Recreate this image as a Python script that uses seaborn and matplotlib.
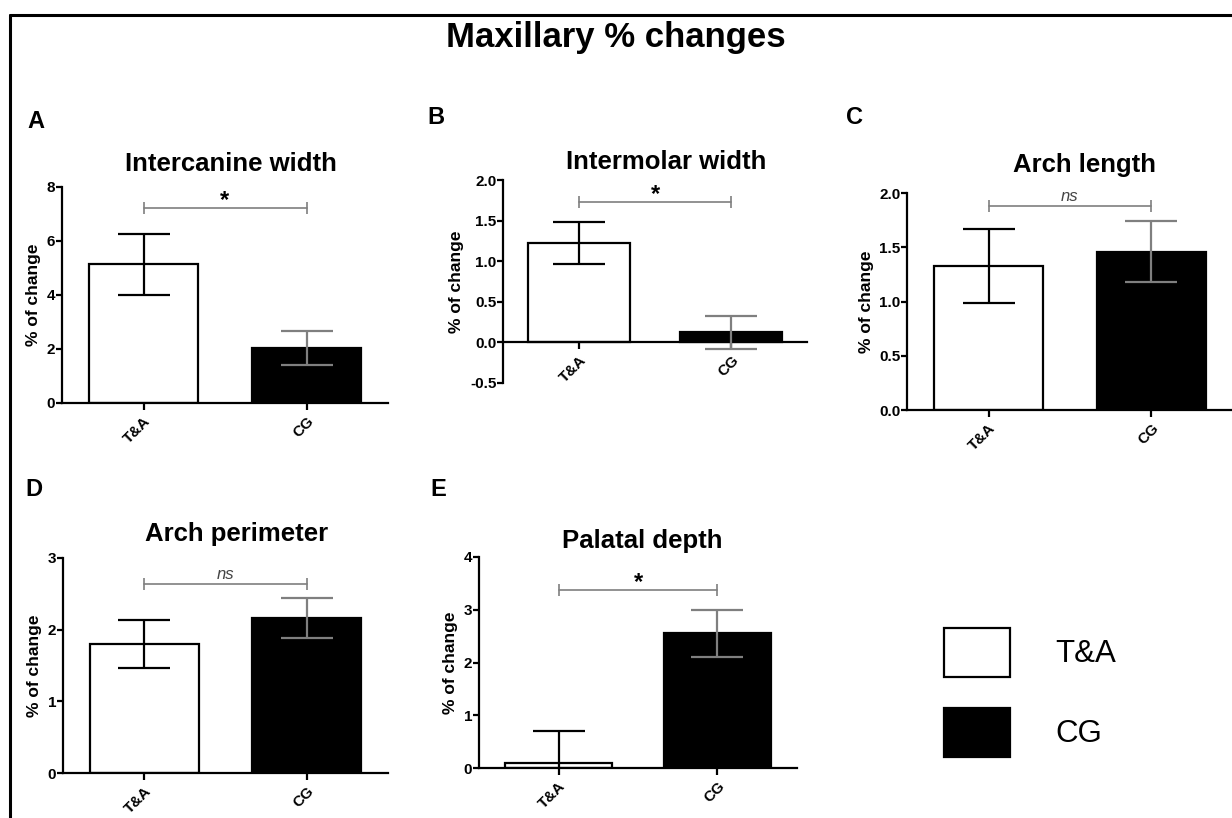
import matplotlib
matplotlib.use("Agg")
import numpy as np
import pandas as pd
import matplotlib.pyplot as plt
import seaborn as sns
from matplotlib.lines import Line2D
from matplotlib.patches import Patch
from matplotlib.ticker import FormatStrFormatter

# ---- data ----
groups = ["T&A", "CG"]

panel_letters = ["A", "B", "C", "D", "E"]
panel_titles = ["Intercanine width", "Intermolar width", "Arch length",
                "Arch perimeter", "Palatal depth"]

intercanine_mean = [5.12, 2.03]
intercanine_err = [1.13, 0.63]
intermolar_mean = [1.22, 0.12]
intermolar_err = [0.26, 0.20]
arch_length_mean = [1.33, 1.46]
arch_length_err = [0.34, 0.28]
arch_perimeter_mean = [1.80, 2.16]
arch_perimeter_err = [0.34, 0.28]
palatal_depth_mean = [0.10, 2.55]
palatal_depth_err = [0.60, 0.45]

significance = ["*", "*", "ns", "ns", "*"]

y_ticks = [
    [0, 2, 4, 6, 8],
    [-0.5, 0.0, 0.5, 1.0, 1.5, 2.0],
    [0.0, 0.5, 1.0, 1.5, 2.0],
    [0, 1, 2, 3],
    [0, 1, 2, 3, 4],
]

means = [intercanine_mean, intermolar_mean, arch_length_mean,
         arch_perimeter_mean, palatal_depth_mean]
errs = [intercanine_err, intermolar_err, arch_length_err,
        arch_perimeter_err, palatal_depth_err]

# ---- layout (pixels of the 1232x818 canvas) ----
W, H = 1232, 818
# left, right, top, bottom of each axes box
boxes = [
    (62, 388, 186.7, 402.7),
    (503.3, 807.3, 180, 382.7),
    (907.3, 1232.6, 193.3, 410),
    (63.3, 388, 557.7, 773.3),
    (479.3, 796.7, 556.7, 768.3),
]
title_pad = [11, 8, 15.5, 12, 6]
title_x = [0.518, 0.537, 0.546, 0.534, 0.514]
letter_pos = [(36, 122), (436, 118), (854, 118), (34, 489), (438, 489)]
bracket_y = [7.2, 1.73, 1.88, 2.63, 3.37]
tick_fmt = ["%d", "%.1f", "%.1f", "%d", "%d"]

bar_colors = ["white", "black"]
err_colors = ["black", "#7f7f7f"]
gray = "#7f7f7f"

sns.set_style("white")
plt.rcParams["font.family"] = ["Liberation Sans", "DejaVu Sans"]
plt.rcParams["text.color"] = "black"
plt.rcParams["axes.labelcolor"] = "black"
plt.rcParams["xtick.color"] = "black"
plt.rcParams["ytick.color"] = "black"

fig = plt.figure(figsize=(W / 100, H / 100), dpi=100)

for i in range(5):
    l, r, t, b = boxes[i]
    ax = fig.add_axes([l / W, 1 - b / H, (r - l) / W, (b - t) / H])
    df = pd.DataFrame({"group": groups, "value": means[i]})
    sns.barplot(data=df, x="group", y="value", hue="group", palette=bar_colors,
                edgecolor="black", linewidth=1.6, width=0.67, legend=False,
                errorbar=None, ax=ax)
    for j in range(len(groups)):
        ax.errorbar(j, means[i][j], yerr=errs[i][j], fmt="none",
                    ecolor=err_colors[j], elinewidth=1.6, capsize=19,
                    capthick=1.6, zorder=5)

    ax.set_xlim(-0.5, 1.5)
    ax.set_ylim(y_ticks[i][0], y_ticks[i][-1])
    ax.set_yticks(y_ticks[i])
    ax.yaxis.set_major_formatter(FormatStrFormatter(tick_fmt[i]))
    ax.set_xlabel("")
    ax.set_ylabel("% of change", fontsize=12.5, fontweight="bold", labelpad=4)

    for s in ["top", "right"]:
        ax.spines[s].set_visible(False)
    for s in ["left", "bottom"]:
        ax.spines[s].set_linewidth(1.6)
        ax.spines[s].set_color("black")
    if y_ticks[i][0] < 0:
        ax.spines["bottom"].set_position(("data", 0))

    ax.tick_params(axis="y", direction="out", length=4, width=1.6,
                   labelsize=11, pad=1, left=True)
    ax.tick_params(axis="x", direction="out", length=5, width=1.6,
                   labelsize=11, pad=3, bottom=True)
    for lab in ax.get_yticklabels():
        lab.set_fontweight("bold")
    ax.set_xticks(range(len(groups)))
    ax.set_xticklabels(groups, rotation=45, ha="right", va="top",
                       rotation_mode="anchor", fontweight="bold")

    ax.set_title(panel_titles[i], fontsize=18.5, fontweight="bold",
                 pad=title_pad[i], x=title_x[i])

    # significance bracket
    yb = bracket_y[i]
    ax.plot([0, 1], [yb, yb], color=gray, lw=1.2, clip_on=False)
    ax.plot([0, 1], [yb, yb], ls="none", marker="|", ms=9, mew=1.2,
            color=gray, clip_on=False)
    if significance[i] == "*":
        ax.annotate("*", (0.5, yb), xytext=(0, -3), textcoords="offset points",
                    ha="center", va="bottom", fontsize=17, fontweight="bold")
    else:
        ax.annotate("ns", (0.5, yb), xytext=(0, 2), textcoords="offset points",
                    ha="center", va="bottom", fontsize=12, style="italic",
                    color="#444444")

    lx, ly = letter_pos[i]
    fig.text(lx / W, 1 - ly / H, panel_letters[i], fontsize=17,
             fontweight="bold", ha="center", va="center")

fig.text(0.5, 1 - 37 / H, "Maxillary % changes", fontsize=25,
         fontweight="bold", ha="center", va="center")

# outer frame (top and left edges)
fig.add_artist(Line2D([10 / W, 1], [1 - 15 / H, 1 - 15 / H],
                      transform=fig.transFigure, color="black", lw=2.2))
fig.add_artist(Line2D([10 / W, 10 / W], [0, 1 - 15 / H],
                      transform=fig.transFigure, color="black", lw=2.2))

handles = [Patch(facecolor=c, edgecolor="black", linewidth=1.6) for c in bar_colors]
fig.legend(handles, groups, loc="upper left",
           bbox_to_anchor=(944 / W, 1 - 628 / H), frameon=False, fontsize=22.5,
           handlelength=2.1, handleheight=2.04, handletextpad=1.45,
           labelspacing=0.98, borderpad=0, borderaxespad=0)

fig.savefig("out.png", dpi=100)
